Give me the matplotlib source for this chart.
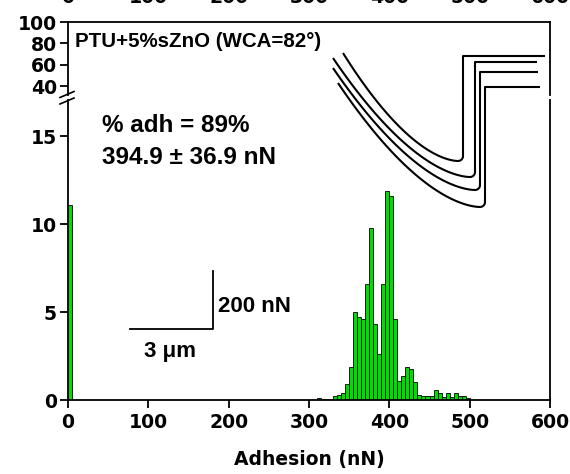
import numpy as np
import matplotlib.pyplot as plt
from matplotlib.lines import Line2D

# histogram data (bin left edge in nN, 5 nN bins) and frequency
bin_left = [0, 310, 315, 320, 325, 330, 335, 340, 345, 350, 355, 360, 365,
            370, 375, 380, 385, 390, 395, 400, 405, 410, 415, 420, 425, 430,
            435, 440, 445, 450, 455, 460, 465, 470, 475, 480, 485, 490, 495]
counts = [11.1, 0.1, 0.05, 0.05, 0.05, 0.2, 0.3, 0.42, 0.9, 1.9, 5.0, 4.7, 4.6,
          6.6, 9.8, 4.3, 2.6, 6.6, 11.9, 11.6, 4.6, 1.1, 1.35, 1.85, 1.75, 1.0,
          0.3, 0.2, 0.2, 0.2, 0.57, 0.42, 0.15, 0.42, 0.15, 0.38, 0.2, 0.23, 0.12]
bin_width = 5

x_ticks = [0, 100, 200, 300, 400, 500, 600]
y_ticks_low = [0, 5, 10, 15]
y_ticks_high = [40, 60, 80, 100]

sample_label = 'PTU+5%sZnO (WCA=82°)'
adh_label = '% adh = 89%'
mean_label = '394.9 ± 36.9 nN'

# schematic force curves (image pixels): start, minimum, rise x, top level, end x
curves = [
    (343, 53, 458, 161, 463, 56, 545),
    (333, 58, 470, 177, 475, 62, 537),
    (333, 68, 475, 190, 480, 72, 538),
    (338, 83, 480, 207, 485, 87, 540),
]

W, H = 570, 474
GREEN = '#00dd00'
tick_font = {'family': 'DejaVu Sans', 'weight': 'bold', 'size': 13.6}
arial_b = {'family': 'Liberation Sans', 'weight': 'bold'}


def fy(y):
    return 1 - y / H


fig = plt.figure(figsize=(W / 100, H / 100), dpi=100)
left, right = 68 / W, 550 / W
ax_hi = fig.add_axes([left, fy(95), right - left, (95 - 22) / H])
ax_lo = fig.add_axes([left, fy(400), right - left, (400 - 100) / H])

for ax in (ax_hi, ax_lo):
    ax.bar(bin_left, counts, width=bin_width, align='edge', color=GREEN,
           edgecolor='black', linewidth=0.6)
    ax.set_xlim(0, 600)
    for s in ax.spines.values():
        s.set_linewidth(1.3)
    ax.tick_params(width=1.3, length=6, direction='out')

ax_lo.set_ylim(0, 300 / 17.6)
ax_hi.set_ylim(40 - 9 / 1.0667, 100)
ax_lo.spines['top'].set_visible(False)
ax_hi.spines['bottom'].set_visible(False)

ax_lo.set_xticks(x_ticks)
ax_lo.set_xticklabels([str(t) for t in x_ticks], fontdict=tick_font)
ax_lo.set_yticks(y_ticks_low)
ax_lo.set_yticklabels([str(t) for t in y_ticks_low], fontdict=tick_font)
ax_lo.tick_params(axis='x', pad=3)
ax_lo.tick_params(axis='y', pad=2)
ax_lo.set_xlabel('Adhesion (nN)', fontdict={'family': 'DejaVu Sans', 'weight': 'bold', 'size': 13.5},
                 labelpad=13)

ax_hi.set_yticks(y_ticks_high)
ax_hi.set_yticklabels([str(t) for t in y_ticks_high], fontdict=tick_font)
ax_hi.tick_params(axis='y', pad=2)
ax_hi.set_xticks(x_ticks)
ax_hi.set_xticklabels([str(t) for t in x_ticks], fontdict=tick_font)
ax_hi.tick_params(axis='x', bottom=False, labelbottom=False, top=True,
                  labeltop=True, length=0, pad=10.5)

# overlay in image pixel coordinates
ov = fig.add_axes([0, 0, 1, 1])
ov.set_xlim(0, W)
ov.set_ylim(H, 0)
ov.axis('off')
ov.patch.set_alpha(0)

# axis break marks
for yb in (94.5, 101):
    ov.add_line(Line2D([60, 74], [yb + 3, yb - 3], color='black', lw=1.2))

# force curves
for xs, ys, xm, ym, xr, yt, xe in curves:
    t = np.linspace(0, 1, 80)
    cx = xs + (xm - xs) * t
    cy = ym + (ys - ym) * (1 - t) ** 1.7
    r = xr - xm
    ang = np.linspace(-np.pi / 2, 0, 20)
    ax_c = xm + r * np.cos(ang)
    ay_c = (ym - r) - r * np.sin(ang)
    px = np.concatenate([cx, ax_c, [xr, xr, xe]])
    py = np.concatenate([cy, ay_c, [ym - r, yt, yt]])
    ov.plot(px, py, color='black', lw=1.5, solid_capstyle='butt')

# scale bar
ov.plot([130, 213, 213], [329, 329, 271], color='black', lw=1.3)
ov.text(218, 306, '200 nN', ha='left', va='center', fontsize=16, **arial_b)
ov.text(170, 351, '3 μm', ha='center', va='center', fontsize=16, **arial_b)

ov.text(75, 41, sample_label, ha='left', va='center', fontsize=14.8, **arial_b)
ov.text(102, 125, adh_label, ha='left', va='center', fontsize=17.5, **arial_b)
ov.text(102, 157, mean_label, ha='left', va='center', fontsize=17.5, **arial_b)

fig.savefig('out.png', dpi=100)
